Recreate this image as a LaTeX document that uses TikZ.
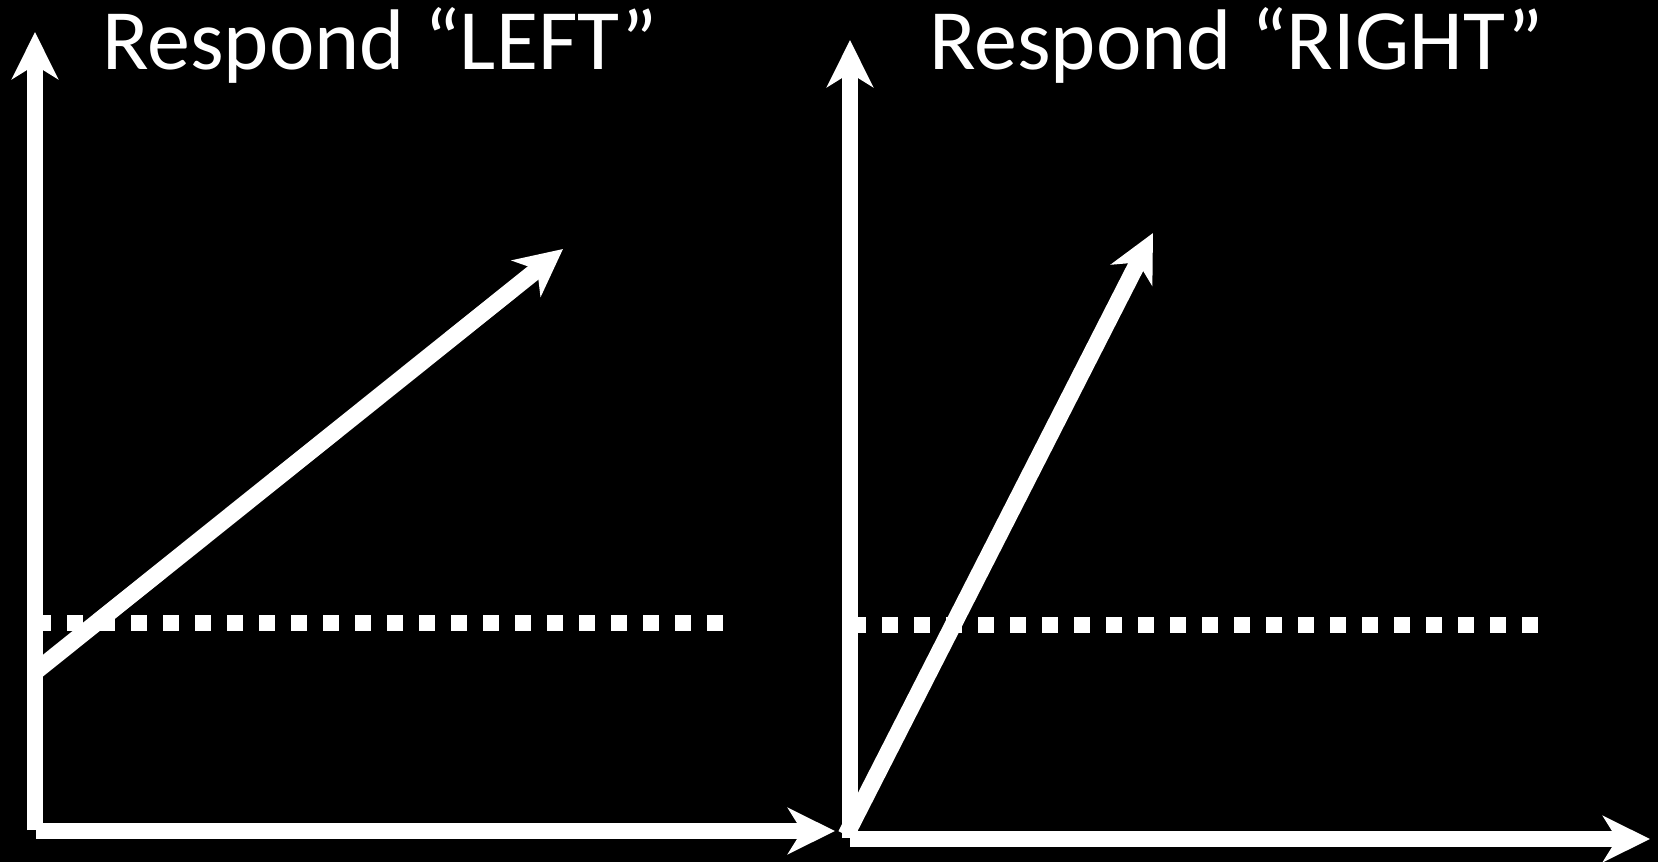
\documentclass[tikz,border=0pt]{standalone}
\usepackage{fontspec}
\setmainfont{Carlito}
\usetikzlibrary{arrows.meta}
\begin{document}
\begin{tikzpicture}[x=1pt,y=-1pt,
  axis/.style={white,line width=16pt,-{Stealth[length=47pt,width=46pt,inset=14pt]}},
  vec/.style={white,line width=17pt,-{Stealth[length=47pt,width=46pt,inset=14pt]}},
  thresh/.style={white,line width=16pt,dash pattern=on 16pt off 16pt},
  title/.style={white,anchor=base west,inner sep=0pt,font=\fontsize{86}{100}\selectfont}]
\fill[black] (0,0) rectangle (1658,862);
\useasboundingbox (0,0) rectangle (1658,862);
% left panel
\coordinate (Lo) at (35,830);
\coordinate (Ly) at (35,32);
\coordinate (Lh) at (36,831);
\coordinate (Lx) at (835,831);
\coordinate (Ld1) at (35,622.5);
\coordinate (Ld2) at (723,622.5);
\coordinate (Lv0) at (35,672);
\coordinate (Lv1) at (563,249);
\draw[thresh] (Ld1) -- (Ld2);
\draw[axis] (Lo) -- (Ly);
\draw[axis] (Lh) -- (Lx);
\draw[vec] (Lv0) -- (Lv1);
\node[title] (tl) at (102,69) {Respond “LEFT”};
% right panel
\coordinate (Ro) at (850,838);
\coordinate (Ry) at (850,40);
\coordinate (Rh) at (850,839);
\coordinate (Rx) at (1650,839);
\coordinate (Rd1) at (850,625);
\coordinate (Rd2) at (1538,625);
\coordinate (Rv0) at (846,835);
\coordinate (Rv1) at (1153,233);
\draw[thresh] (Rd1) -- (Rd2);
\draw[axis] (Ro) -- (Ry);
\draw[axis] (Rh) -- (Rx);
\draw[vec] (Rv0) -- (Rv1);
\node[title] (tr) at (929,69) {Respond “RIGHT”};
\end{tikzpicture}
\end{document}
